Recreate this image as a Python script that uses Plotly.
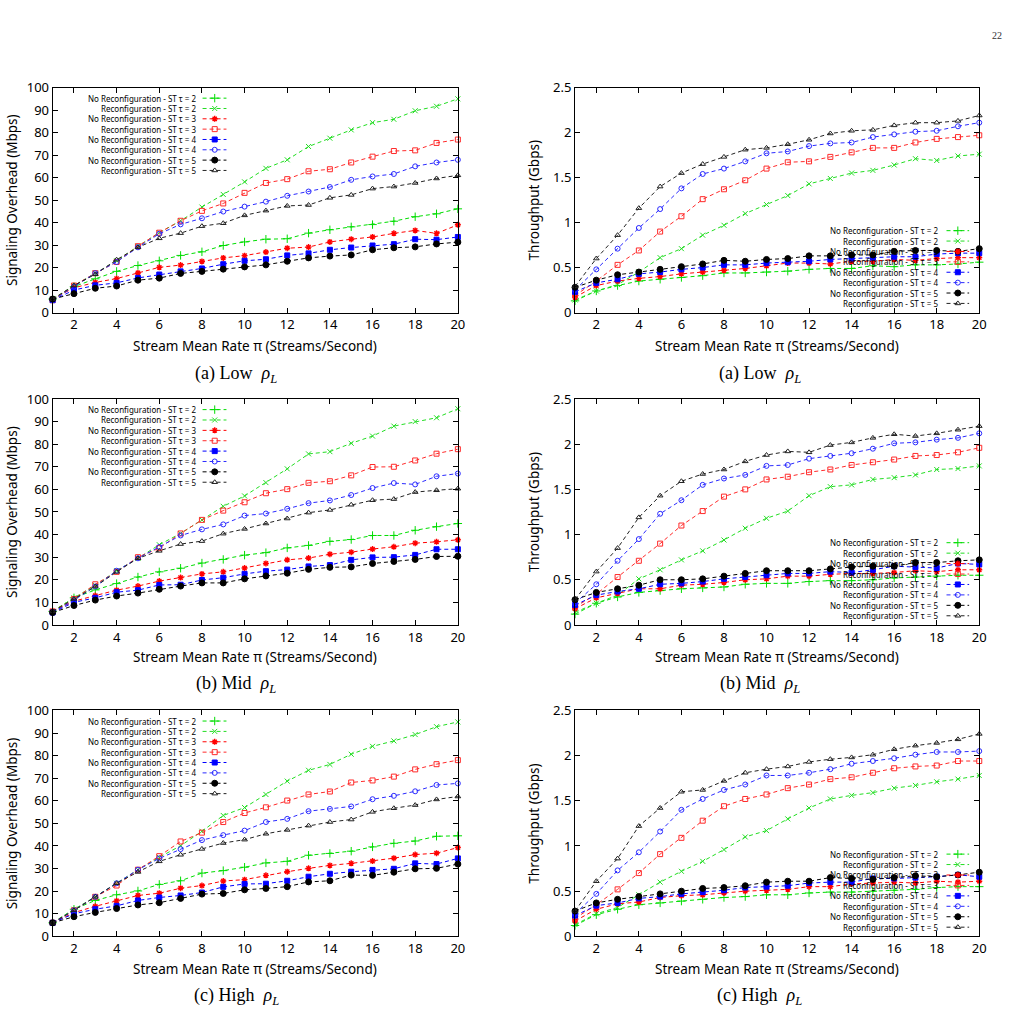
import plotly.graph_objects as go

# ---------------- data ----------------
X = list(range(1, 21))
X_TICKS = list(range(2, 21, 2))
OVH_TICKS = list(range(0, 101, 10))
THR_TICKS = [0, 0.5, 1, 1.5, 2, 2.5]
THR_TICK_TEXT = ["0", "0.5", "1", "1.5", "2", "2.5"]

LEGEND_LABELS = [
    "No Reconfiguration - ST \u03c4 = 2", "Reconfiguration - ST \u03c4 = 2",
    "No Reconfiguration - ST \u03c4 = 3", "Reconfiguration - ST \u03c4 = 3",
    "No Reconfiguration - ST \u03c4 = 4", "Reconfiguration - ST \u03c4 = 4",
    "No Reconfiguration - ST \u03c4 = 5", "Reconfiguration - ST \u03c4 = 5",
]
CAPTIONS = ["(a) Low", "(b) Mid", "(c) High"]
OVH_TITLE = "Signaling Overhead (Mbps)"
THR_TITLE = "Throughput (Gbps)"
X_TITLE = "Stream Mean Rate \u03c0 (Streams/Second)"

# Signaling overhead - Low
OVH_LOW_NR2 = [6, 11.5, 15, 18.3, 20.9, 23, 25.4, 27, 29.8, 31.4, 32.6, 32.8, 35.3, 36.8, 38.1, 39.1, 40.6, 42.6, 43.9, 46.1]
OVH_LOW_R2 = [6, 12, 17.5, 23, 29.5, 35.5, 40.8, 46.9, 52.5, 58.1, 64.1, 67.9, 73.8, 77.5, 81.2, 84.4, 85.9, 89.7, 91.7, 95]
OVH_LOW_NR3 = [6, 11, 13.4, 15.1, 17.6, 20.1, 21.1, 22.7, 24.3, 25.3, 26.9, 28.6, 29.1, 31.4, 32.6, 33.6, 35.2, 36.5, 35.2, 39]
OVH_LOW_R3 = [5.5, 12, 17.5, 22.5, 29.5, 35.5, 40.8, 45.2, 48.5, 53.2, 57.6, 59.3, 62.8, 63.7, 66.7, 69.3, 71.8, 72.1, 75.4, 76.9]
OVH_LOW_NR4 = [5.5, 10, 12.1, 13.2, 15.4, 16.9, 18.3, 19.6, 21.5, 23, 23.7, 25.4, 26.3, 27.9, 28.9, 29.8, 30.4, 32.6, 32.4, 33.6]
OVH_LOW_R4 = [5.5, 11.5, 17.5, 22.5, 29, 35, 39.2, 41.9, 44.9, 47.1, 49.3, 51.9, 53.8, 55.8, 59, 60.5, 61.6, 65, 66.7, 67.9]
OVH_LOW_NR5 = [6, 8.4, 10.8, 11.8, 14.4, 15.3, 17.4, 18.3, 19.3, 20.3, 21.2, 22.8, 24.3, 25.1, 25.6, 27.9, 28.8, 29.2, 30.5, 31.3]
OVH_LOW_R5 = [6, 12, 17, 23.5, 29, 33, 35.3, 38.4, 39.7, 43.2, 45.3, 47.4, 47.8, 51, 52.3, 55.1, 56, 57.6, 59.6, 61]

# Signaling overhead - Mid
OVH_MID_NR2 = [6, 12, 15.5, 18.3, 21.2, 23.5, 25.1, 27.4, 29, 30.9, 32, 34.1, 35.2, 37, 37.8, 39.6, 39.6, 41.9, 43.5, 44.9]
OVH_MID_R2 = [6, 12, 17.5, 24, 29.5, 35.5, 40.5, 46.5, 52.5, 57.1, 63, 69.1, 75.7, 76.7, 80.4, 83.6, 88, 90, 91.7, 95.7]
OVH_MID_NR3 = [6, 10.5, 13, 15.4, 17.2, 19.4, 21, 22.6, 23.5, 25.2, 27.2, 28.8, 29.6, 31.3, 32.2, 33.6, 34.6, 36.2, 36.8, 37.7]
OVH_MID_R3 = [6, 11.5, 18, 23.5, 30, 34, 40.5, 46.5, 50.6, 54.3, 58.3, 60.1, 62.9, 63.6, 66.2, 69.9, 70, 72.8, 75.8, 77.8]
OVH_MID_NR4 = [5.5, 10, 12, 14.5, 15.4, 17.7, 17.8, 19.9, 20.9, 22.6, 23.8, 24.5, 25.9, 26.5, 28.8, 29.9, 30, 31, 33.5, 33.5]
OVH_MID_R4 = [5.5, 11, 17, 24, 29.5, 34.5, 39.6, 42.3, 44.5, 48.4, 49.3, 51.4, 53.9, 55.1, 57.5, 60.6, 62.8, 62.2, 65.8, 67]
OVH_MID_NR5 = [5.5, 8.6, 11, 12.8, 14.1, 15.8, 17.2, 18.6, 18.6, 20.4, 21.7, 22.9, 24.6, 25.5, 25.7, 27.2, 28.1, 29, 30.3, 30.4]
OVH_MID_R5 = [6, 11.5, 17, 23.5, 29.5, 32.8, 35.8, 37.1, 40.4, 42.5, 44.9, 47.1, 49.7, 50.9, 53.2, 55.2, 55.7, 58.8, 59.6, 60.3]

# Signaling overhead - High
OVH_HIGH_NR2 = [6, 12, 15.9, 18.4, 20.1, 23, 24.6, 28, 29.1, 30.6, 32.5, 33.2, 35.9, 36.7, 37.7, 39.6, 41.2, 42.2, 44.3, 44.5]
OVH_HIGH_R2 = [6, 12, 17.5, 23.5, 29.5, 35, 40.1, 46.5, 53.5, 57, 62.8, 68.7, 73.5, 76.1, 80.6, 84.1, 86.5, 89.3, 92.8, 94.9]
OVH_HIGH_NR3 = [6, 10.5, 13.3, 15.7, 18.1, 19.1, 21.3, 22.5, 24.5, 25.1, 27, 28.6, 30.1, 31.4, 32.3, 33.3, 34.6, 36.2, 36.8, 39.3]
OVH_HIGH_R3 = [6, 11.5, 17.5, 22.5, 29.5, 35.5, 42, 45.9, 50.6, 54.6, 57.1, 60.1, 62.8, 64.1, 68.1, 69, 70.7, 73.9, 76.2, 78]
OVH_HIGH_NR4 = [6, 10, 12, 13.5, 15.9, 17.2, 18.1, 19.4, 21.9, 23.2, 23.3, 24.6, 26.4, 27.7, 28.6, 29.4, 29.9, 32.3, 32, 34.5]
OVH_HIGH_R4 = [6, 11.5, 17.5, 23.5, 29.5, 34.5, 38.6, 42.6, 44.8, 46.8, 50.6, 52, 55.4, 56.4, 57.5, 60.7, 62.2, 64.2, 67, 67.7]
OVH_HIGH_NR5 = [6, 8.7, 10.6, 12.3, 13.9, 14.9, 16.8, 18.7, 19, 20.6, 21.2, 22, 24.1, 24.6, 27.1, 27, 28.4, 29.9, 30.1, 32]
OVH_HIGH_R5 = [6, 11.5, 17.5, 23.5, 28.5, 33.2, 36.1, 38.7, 41.3, 42.8, 45.4, 47.1, 49, 50.6, 51.7, 55.1, 56.7, 58.1, 60.6, 61.9]

# Throughput - Low
THR_LOW_NR2 = [0.13, 0.24, 0.3, 0.35, 0.37, 0.39, 0.41, 0.44, 0.44, 0.45, 0.46, 0.48, 0.49, 0.49, 0.52, 0.51, 0.53, 0.53, 0.54, 0.56]
THR_LOW_R2 = [0.14, 0.24, 0.31, 0.45, 0.61, 0.71, 0.86, 0.97, 1.1, 1.2, 1.3, 1.43, 1.49, 1.55, 1.58, 1.64, 1.71, 1.69, 1.74, 1.76]
THR_LOW_NR3 = [0.17, 0.3, 0.35, 0.38, 0.4, 0.43, 0.45, 0.47, 0.49, 0.52, 0.55, 0.55, 0.54, 0.57, 0.57, 0.59, 0.58, 0.6, 0.61, 0.61]
THR_LOW_R3 = [0.19, 0.35, 0.53, 0.69, 0.9, 1.07, 1.26, 1.37, 1.47, 1.6, 1.67, 1.68, 1.73, 1.78, 1.83, 1.83, 1.89, 1.93, 1.95, 1.97]
THR_LOW_NR4 = [0.23, 0.33, 0.37, 0.43, 0.45, 0.48, 0.5, 0.53, 0.53, 0.55, 0.56, 0.57, 0.59, 0.6, 0.61, 0.62, 0.62, 0.65, 0.66, 0.66]
THR_LOW_R4 = [0.25, 0.48, 0.71, 0.94, 1.15, 1.38, 1.54, 1.6, 1.68, 1.77, 1.79, 1.85, 1.88, 1.89, 1.95, 1.98, 2.01, 2.02, 2.07, 2.11]
THR_LOW_NR5 = [0.28, 0.36, 0.42, 0.45, 0.48, 0.51, 0.54, 0.58, 0.57, 0.59, 0.6, 0.63, 0.63, 0.64, 0.64, 0.68, 0.69, 0.69, 0.68, 0.71]
THR_LOW_R5 = [0.29, 0.6, 0.86, 1.16, 1.4, 1.55, 1.65, 1.73, 1.81, 1.83, 1.87, 1.92, 1.99, 2.02, 2.03, 2.08, 2.11, 2.11, 2.13, 2.19]

# Throughput - Mid
THR_MID_NR2 = [0.12, 0.24, 0.31, 0.36, 0.38, 0.4, 0.41, 0.42, 0.45, 0.46, 0.46, 0.48, 0.49, 0.49, 0.5, 0.52, 0.53, 0.54, 0.55, 0.55]
THR_MID_R2 = [0.14, 0.24, 0.33, 0.51, 0.61, 0.72, 0.82, 0.94, 1.07, 1.18, 1.26, 1.43, 1.53, 1.55, 1.61, 1.63, 1.66, 1.72, 1.73, 1.76]
THR_MID_NR3 = [0.18, 0.3, 0.35, 0.4, 0.4, 0.44, 0.45, 0.47, 0.5, 0.51, 0.54, 0.54, 0.56, 0.57, 0.57, 0.58, 0.6, 0.59, 0.61, 0.61]
THR_MID_R3 = [0.2, 0.34, 0.53, 0.71, 0.9, 1.1, 1.26, 1.42, 1.5, 1.61, 1.64, 1.69, 1.72, 1.77, 1.8, 1.83, 1.87, 1.88, 1.91, 1.96]
THR_MID_NR4 = [0.22, 0.33, 0.37, 0.4, 0.45, 0.46, 0.48, 0.51, 0.53, 0.55, 0.57, 0.57, 0.59, 0.58, 0.61, 0.65, 0.64, 0.63, 0.68, 0.67]
THR_MID_R4 = [0.24, 0.45, 0.71, 0.95, 1.23, 1.38, 1.55, 1.62, 1.66, 1.76, 1.77, 1.84, 1.87, 1.9, 1.95, 2.01, 2.02, 2.05, 2.07, 2.12]
THR_MID_NR5 = [0.28, 0.36, 0.4, 0.44, 0.5, 0.5, 0.51, 0.54, 0.57, 0.6, 0.6, 0.6, 0.62, 0.64, 0.65, 0.65, 0.69, 0.69, 0.71, 0.72]
THR_MID_R5 = [0.28, 0.59, 0.85, 1.19, 1.43, 1.59, 1.67, 1.72, 1.81, 1.88, 1.92, 1.91, 1.99, 2.02, 2.07, 2.11, 2.09, 2.12, 2.16, 2.2]

# Throughput - High
THR_HIGH_NR2 = [0.12, 0.24, 0.3, 0.35, 0.37, 0.39, 0.41, 0.43, 0.44, 0.46, 0.46, 0.48, 0.49, 0.49, 0.5, 0.51, 0.52, 0.54, 0.55, 0.55]
THR_HIGH_R2 = [0.13, 0.25, 0.32, 0.46, 0.6, 0.72, 0.83, 0.96, 1.1, 1.17, 1.3, 1.42, 1.52, 1.56, 1.59, 1.64, 1.67, 1.71, 1.74, 1.78]
THR_HIGH_NR3 = [0.17, 0.3, 0.36, 0.38, 0.43, 0.45, 0.46, 0.48, 0.5, 0.51, 0.52, 0.55, 0.55, 0.58, 0.59, 0.6, 0.59, 0.61, 0.6, 0.61]
THR_HIGH_R3 = [0.2, 0.35, 0.52, 0.7, 0.91, 1.09, 1.28, 1.44, 1.52, 1.57, 1.64, 1.68, 1.74, 1.76, 1.81, 1.86, 1.88, 1.89, 1.94, 1.94]
THR_HIGH_NR4 = [0.23, 0.34, 0.37, 0.42, 0.44, 0.47, 0.49, 0.51, 0.54, 0.55, 0.56, 0.59, 0.6, 0.6, 0.64, 0.64, 0.65, 0.66, 0.68, 0.66]
THR_HIGH_R4 = [0.25, 0.47, 0.73, 0.93, 1.16, 1.4, 1.52, 1.62, 1.68, 1.78, 1.78, 1.81, 1.85, 1.91, 1.94, 1.97, 2.01, 2.04, 2.04, 2.05]
THR_HIGH_NR5 = [0.28, 0.37, 0.41, 0.44, 0.47, 0.5, 0.53, 0.54, 0.56, 0.6, 0.61, 0.61, 0.65, 0.64, 0.63, 0.65, 0.67, 0.66, 0.68, 0.71]
THR_HIGH_R5 = [0.28, 0.61, 0.86, 1.22, 1.42, 1.6, 1.62, 1.72, 1.81, 1.85, 1.88, 1.93, 1.96, 1.98, 2.01, 2.07, 2.11, 2.14, 2.18, 2.24]

# ---------------- styles ----------------
W, H = 1023, 1021
COLORS = ["#00dd00", "#22dd22", "#ff0000", "#ff2a2a", "#0000ff", "#2a2aff", "#000000", "#222222"]
SYMBOLS = ["cross-thin", "x-thin", "asterisk", "square-open", "square", "circle-open", "circle", "triangle-up-open"]
SIZES = [6, 5, 5, 5, 5, 5, 6, 5]
LWS = [1, 1, 1.4, 1, 1, 1, 1, 1]
DASH = "4px,3px"
SANS = "Noto Sans"
SERIF = "Liberation Serif"


def fx(px):
    return px / W


def fy(py):
    return 1 - py / H


OVH_DATA = [
    [OVH_LOW_NR2, OVH_LOW_R2, OVH_LOW_NR3, OVH_LOW_R3, OVH_LOW_NR4, OVH_LOW_R4, OVH_LOW_NR5, OVH_LOW_R5],
    [OVH_MID_NR2, OVH_MID_R2, OVH_MID_NR3, OVH_MID_R3, OVH_MID_NR4, OVH_MID_R4, OVH_MID_NR5, OVH_MID_R5],
    [OVH_HIGH_NR2, OVH_HIGH_R2, OVH_HIGH_NR3, OVH_HIGH_R3, OVH_HIGH_NR4, OVH_HIGH_R4, OVH_HIGH_NR5, OVH_HIGH_R5],
]
THR_DATA = [
    [THR_LOW_NR2, THR_LOW_R2, THR_LOW_NR3, THR_LOW_R3, THR_LOW_NR4, THR_LOW_R4, THR_LOW_NR5, THR_LOW_R5],
    [THR_MID_NR2, THR_MID_R2, THR_MID_NR3, THR_MID_R3, THR_MID_NR4, THR_MID_R4, THR_MID_NR5, THR_MID_R5],
    [THR_HIGH_NR2, THR_HIGH_R2, THR_HIGH_NR3, THR_HIGH_R3, THR_HIGH_NR4, THR_HIGH_R4, THR_HIGH_NR5, THR_HIGH_R5],
]

# pixel geometry of plot areas
ROW_Y = [(80, 309), (397, 627), (714, 944)]
LEFT_X = (53, 461)
RIGHT_X = (579, 986)
CAPTION_Y = [372, 688, 1005]
XTITLE_Y = [343, 660, 977]

fig = go.Figure()
layout = {}
annotations = []


def axname(prefix, k):
    return prefix + ("" if k == 1 else str(k))


panels = []
for r in range(3):
    panels.append(dict(data=OVH_DATA[r], xpx=LEFT_X, ypx=ROW_Y[r], kind="ovh", row=r))
    panels.append(dict(data=THR_DATA[r], xpx=RIGHT_X, ypx=ROW_Y[r], kind="thr", row=r))

for i, p in enumerate(panels):
    k = i + 1
    kl = k + 6
    xd = [fx(p["xpx"][0]), fx(p["xpx"][1])]
    yd = [fy(p["ypx"][1]), fy(p["ypx"][0])]
    common = dict(showline=True, linecolor="black", linewidth=1, mirror="allticks",
                  ticks="inside", ticklen=5, tickwidth=1, tickcolor="black",
                  showgrid=False, zeroline=False,
                  tickfont=dict(family=SANS, size=13, color="black"))
    layout[axname("xaxis", k)] = dict(domain=xd, anchor=axname("y", k), range=[1, 20],
                                      tickvals=X_TICKS, **common)
    if p["kind"] == "ovh":
        layout[axname("yaxis", k)] = dict(domain=yd, anchor=axname("x", k), range=[0, 100],
                                          tickvals=OVH_TICKS, **common)
    else:
        layout[axname("yaxis", k)] = dict(domain=yd, anchor=axname("x", k), range=[0, 2.5],
                                          tickvals=THR_TICKS, ticktext=THR_TICK_TEXT, **common)
    # key helper axes (overlaying the panel so they share its layer)
    hidden = dict(range=[0, 1], visible=False, fixedrange=True, showticklabels=False,
                  ticks="", showgrid=False, zeroline=False, showline=False)
    layout[axname("xaxis", kl)] = dict(overlaying=axname("x", k), anchor=axname("y", kl), **hidden)
    layout[axname("yaxis", kl)] = dict(overlaying=axname("y", k), anchor=axname("x", kl), **hidden)

    # key (gnuplot-like: text right aligned, sample on the right)
    if p["kind"] == "ovh":
        tx, l0, l1, mx, y0, dy = 0.358, 0.370, 0.429, 0.400, 0.953, 0.0459
    else:
        tx, l0, l1, mx, y0, dy = 0.902, 0.919, 0.975, 0.947, 0.364, 0.0462
    for s, lab in enumerate(LEGEND_LABELS):
        yy = y0 - s * dy
        fig.add_trace(go.Scatter(
            x=[l0, l1], y=[yy, yy], mode="lines",
            xaxis=axname("x", kl), yaxis=axname("y", kl),
            line=dict(color=COLORS[s], width=1, dash=DASH),
            showlegend=False, hoverinfo="skip"))
        fig.add_trace(go.Scatter(
            x=[mx], y=[yy], mode="markers",
            xaxis=axname("x", kl), yaxis=axname("y", kl),
            marker=dict(symbol=SYMBOLS[s], size=SIZES[s], color=COLORS[s],
                        line=dict(color=COLORS[s], width=LWS[s])),
            showlegend=False, hoverinfo="skip"))
        annotations.append(dict(x=tx, y=yy, xref=axname("x", kl), yref=axname("y", kl),
                                text=lab, showarrow=False, xanchor="right", yanchor="middle",
                                font=dict(family=SANS, size=8, color="black")))

    # data traces
    for s, ys in enumerate(p["data"]):
        fig.add_trace(go.Scatter(
            x=X, y=ys, mode="lines+markers", xaxis=axname("x", k), yaxis=axname("y", k),
            line=dict(color=COLORS[s], width=1, dash=DASH),
            marker=dict(symbol=SYMBOLS[s], size=SIZES[s], color=COLORS[s],
                        line=dict(color=COLORS[s], width=LWS[s])),
            cliponaxis=False, showlegend=False, hoverinfo="skip"))

    # axis titles & caption
    cx = (p["xpx"][0] + p["xpx"][1]) / 2
    cy = (p["ypx"][0] + p["ypx"][1]) / 2
    r = p["row"]
    annotations.append(dict(x=fx(cx), y=fy(XTITLE_Y[r]), xref="paper", yref="paper",
                            text=X_TITLE, showarrow=False, xanchor="center", yanchor="middle",
                            font=dict(family=SANS, size=13.5, color="black")))
    if p["kind"] == "ovh":
        ytx, ytitle, capx = 12, OVH_TITLE, 238
    else:
        ytx, ytitle, capx = 538, THR_TITLE, 765
    annotations.append(dict(x=fx(ytx), y=fy(cy), xref="paper", yref="paper", textangle=-90,
                            text=ytitle, showarrow=False, xanchor="center", yanchor="middle",
                            font=dict(family=SANS, size=13.5, color="black")))
    annotations.append(dict(x=fx(capx), y=fy(CAPTION_Y[r]), xref="paper", yref="paper",
                            text=CAPTIONS[r] + "\u2002<i>\u03c1<sub>L</sub></i>", showarrow=False,
                            xanchor="center", yanchor="middle",
                            font=dict(family=SERIF, size=18, color="black")))

annotations.append(dict(x=fx(1004), y=fy(27), xref="paper", yref="paper", text="22",
                        showarrow=False, xanchor="center", yanchor="middle",
                        font=dict(family=SERIF, size=10, color="#333333")))

fig.update_layout(**layout)
fig.update_layout(width=W, height=H, margin=dict(l=0, r=0, t=0, b=0),
                  paper_bgcolor="white", plot_bgcolor="rgba(0,0,0,0)",
                  showlegend=False, annotations=annotations)

fig.write_html("out.html")
